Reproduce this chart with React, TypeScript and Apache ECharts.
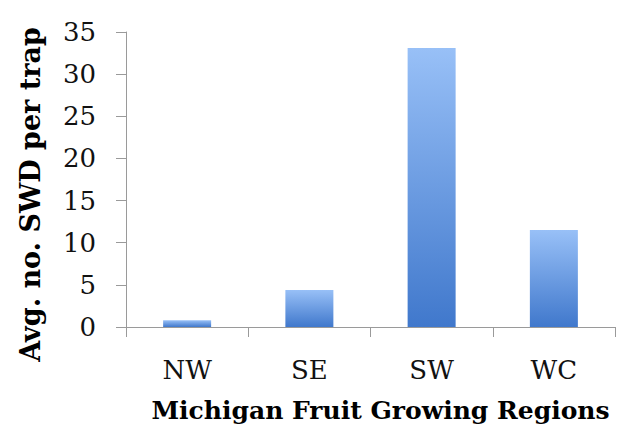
import React, { useEffect, useRef } from "react";
import * as echarts from "echarts";

const categories = ["NW", "SE", "SW", "WC"];
const values = [0.8, 4.4, 33.1, 11.5];
const yTicks = { min: 0, max: 35, interval: 5 };
const xTitle = "Michigan Fruit Growing Regions";
const yTitle = "Avg. no. SWD per trap";

export default function App() {
  const ref = useRef<HTMLDivElement>(null);
  useEffect(() => {
    const chart = echarts.init(ref.current!, null, { renderer: "svg" });
    const font = "DejaVu Serif";
    chart.setOption({
      animation: false,
      backgroundColor: "#ffffff",
      grid: { left: 118, right: 17, top: 24, bottom: 106, containLabel: false, outerBoundsMode: "none" },
      xAxis: {
        type: "category",
        data: categories,
        axisLine: { lineStyle: { color: "#9a9a9a", width: 1 } },
        axisTick: { show: true, length: 10, lineStyle: { color: "#9a9a9a" } },
        axisLabel: { color: "#111", fontFamily: font, fontSize: 26, margin: 30 },
        name: xTitle,
        nameLocation: "middle",
        nameGap: 71,
        nameTextStyle: { color: "#000", fontFamily: font, fontSize: 25, fontWeight: "bold", padding: [0, 0, 0, 20] },
      },
      yAxis: {
        type: "value",
        min: yTicks.min,
        max: yTicks.max,
        interval: yTicks.interval,
        splitLine: { show: false },
        axisLine: { show: true, lineStyle: { color: "#9a9a9a", width: 1 } },
        axisTick: { show: true, length: 10, lineStyle: { color: "#9a9a9a" } },
        axisLabel: { color: "#111", fontFamily: font, fontSize: 26, margin: 30 },
        name: yTitle,
        nameLocation: "middle",
        nameGap: 82,
        nameTextStyle: { color: "#000", fontFamily: font, fontSize: 27, fontWeight: "bold", padding: [0, 30, 0, 0] },
      },
      series: [
        {
          type: "bar",
          data: values,
          barWidth: 48,
          itemStyle: {
            color: new echarts.graphic.LinearGradient(0, 0, 0, 1, [
              { offset: 0, color: "#98c0f7" },
              { offset: 1, color: "#4078cc" },
            ]),
          },
        },
      ],
    });
    return () => chart.dispose();
  }, []);
  return <div ref={ref} style={{ width: 624, height: 425 }} />;
}
